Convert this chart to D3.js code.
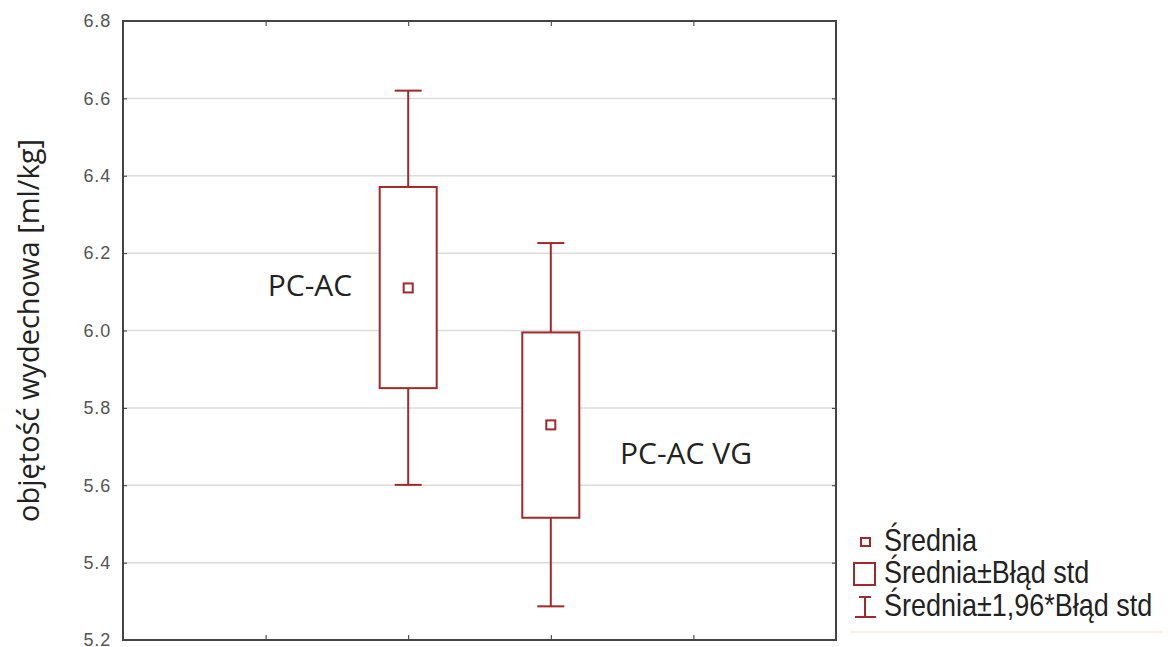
<!DOCTYPE html>
<html><head><meta charset="utf-8">
<script src="https://cdn.jsdelivr.net/npm/d3@7"></script>
<style>body{margin:0;background:#fff}svg{display:block}</style>
</head><body>
<svg id="c" width="1170" height="647"></svg>
<script>
const categories = ["PC-AC", "PC-AC VG"];
const catPos = [2, 3];
const means = [6.110, 5.756];
const seLow = [5.851, 5.516];
const seHigh = [6.371, 5.995];
const ciLow = [5.601, 5.287];
const ciHigh = [6.620, 6.226];
const yTicks = [5.2, 5.4, 5.6, 5.8, 6.0, 6.2, 6.4, 6.6, 6.8];
const xTicks = [1, 2, 3, 4];
const legendLabels = ["Średnia", "Średnia±Błąd std", "Średnia±1,96*Błąd std"];

const col = "#9e2a2b";
const svg = d3.select("#c");
const L = 123, R = 836, T = 21, B = 640;
const x = d3.scaleLinear().domain([0, 5]).range([L, R]);
const y = d3.scaleLinear().domain([5.2, 6.8]).range([B, T]);

// gridlines
svg.append("g").selectAll("line").data(yTicks.slice(1, -1)).join("line")
  .attr("x1", L).attr("x2", R).attr("y1", d => y(d)).attr("y2", d => y(d))
  .attr("stroke", "#dcdcdc").attr("stroke-width", 1.5);

// axes with inward ticks
const fmt = d => d.toFixed(1);
svg.append("g").attr("transform", `translate(${L},0)`)
  .call(d3.axisLeft(y).tickValues(yTicks).tickFormat(fmt).tickSize(-4).tickPadding(12))
  .call(g => g.select(".domain").remove())
  .call(g => g.selectAll("line").attr("stroke", "#333"))
  .call(g => g.selectAll("text").attr("font-family", "Liberation Sans, Arial, sans-serif")
    .attr("font-size", 18).attr("fill", "#555").attr("letter-spacing", 0.8));
svg.append("g").attr("transform", `translate(${R},0)`)
  .call(d3.axisRight(y).tickValues(yTicks).tickFormat("").tickSize(-4))
  .call(g => g.select(".domain").remove())
  .call(g => g.selectAll("line").attr("stroke", "#333"));
svg.append("g").attr("transform", `translate(0,${B})`)
  .call(d3.axisBottom(x).tickValues(xTicks).tickFormat("").tickSize(-5))
  .call(g => g.select(".domain").remove())
  .call(g => g.selectAll("line").attr("stroke", "#333"));
svg.append("g").attr("transform", `translate(0,${T})`)
  .call(d3.axisTop(x).tickValues(xTicks).tickFormat("").tickSize(-5))
  .call(g => g.select(".domain").remove())
  .call(g => g.selectAll("line").attr("stroke", "#333"));

// frame
svg.append("rect").attr("x", L).attr("y", T).attr("width", R - L).attr("height", B - T)
  .attr("fill", "none").attr("stroke", "#444").attr("stroke-width", 2);

// box plots
const idx = d3.range(categories.length);
const boxW = 57, capW = 27, mk = 9;
const g = svg.append("g").attr("stroke", col).attr("stroke-width", 2).attr("fill", "none");
g.selectAll(".wh").data(idx).join("line")
  .attr("x1", i => x(catPos[i])).attr("x2", i => x(catPos[i]))
  .attr("y1", i => y(ciHigh[i])).attr("y2", i => y(ciLow[i]));
g.selectAll(".capH").data(idx).join("line")
  .attr("x1", i => x(catPos[i]) - capW / 2).attr("x2", i => x(catPos[i]) + capW / 2)
  .attr("y1", i => y(ciHigh[i])).attr("y2", i => y(ciHigh[i]));
g.selectAll(".capL").data(idx).join("line")
  .attr("x1", i => x(catPos[i]) - capW / 2).attr("x2", i => x(catPos[i]) + capW / 2)
  .attr("y1", i => y(ciLow[i])).attr("y2", i => y(ciLow[i]));
g.selectAll(".box").data(idx).join("rect")
  .attr("x", i => x(catPos[i]) - boxW / 2).attr("width", boxW)
  .attr("y", i => y(seHigh[i])).attr("height", i => y(seLow[i]) - y(seHigh[i]))
  .attr("fill", "#fff");
g.selectAll(".mean").data(idx).join("rect")
  .attr("x", i => x(catPos[i]) - mk / 2).attr("width", mk)
  .attr("y", i => y(means[i]) - mk / 2).attr("height", mk)
  .attr("fill", "#fff");

// category labels
const labPos = [[310, 6.12], [686, 5.685]];
svg.append("g").selectAll("text").data(idx).join("text")
  .attr("x", i => labPos[i][0]).attr("y", i => y(labPos[i][1]))
  .attr("text-anchor", "middle").attr("dominant-baseline", "central")
  .attr("font-family", "Open Sans, sans-serif").attr("font-size", 30).attr("fill", "#222")
  .text(i => categories[i]);

// y title
svg.append("text").attr("transform", `translate(39,${y(6.0)}) rotate(-90)`)
  .attr("text-anchor", "middle").attr("font-family", "Open Sans, sans-serif")
  .attr("font-size", 29).attr("fill", "#222").text("objętość wydechowa [ml/kg]");

// legend
const lg = svg.append("g").attr("font-family", "Liberation Sans, Arial, sans-serif")
  .attr("font-size", 27).attr("fill", "#222");
const ly = [542, 574, 607];
lg.append("rect").attr("x", 861).attr("y", ly[0] - 4).attr("width", 9).attr("height", 8)
  .attr("fill", "#fff").attr("stroke", col).attr("stroke-width", 2);
lg.append("rect").attr("x", 854).attr("y", ly[1] - 11).attr("width", 21).attr("height", 22)
  .attr("fill", "#fff").attr("stroke", col).attr("stroke-width", 2);
const ig = lg.append("g").attr("stroke", col).attr("stroke-width", 2);
ig.append("line").attr("x1", 865).attr("x2", 865).attr("y1", ly[2] - 10).attr("y2", ly[2] + 10);
ig.append("line").attr("x1", 859).attr("x2", 871).attr("y1", ly[2] - 10).attr("y2", ly[2] - 10);
ig.append("line").attr("x1", 855).attr("x2", 876).attr("y1", ly[2] + 10).attr("y2", ly[2] + 10);
lg.selectAll("text").data(legendLabels).join("text")
  .attr("transform", (d, i) => `translate(884,${ly[i] + 9}) scale(1,1.14)`)
  .text(d => d);
svg.append("line").attr("x1", 850).attr("x2", 1163).attr("y1", 632).attr("y2", 632)
  .attr("stroke", "#f6ede0").attr("stroke-width", 1.5);
</script>
</body></html>
